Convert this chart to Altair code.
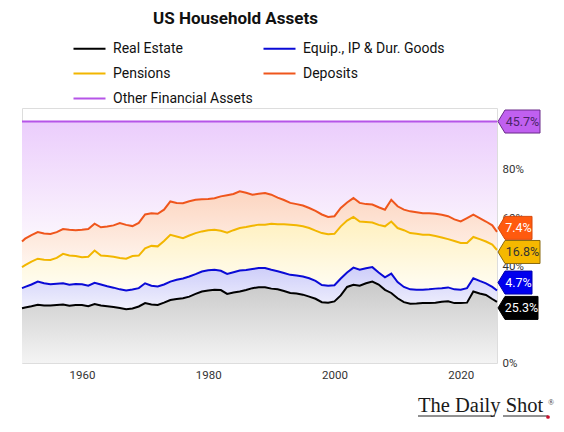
import altair as alt
import pandas as pd

# ---------------- data ----------------
years = [1950.5] + list(range(1951, 2026)) + [2025.75]

# Cumulative (stacked) level of each boundary line, % of household assets
real_estate_top = [
    22.7,
    23.0, 23.5, 24.1, 23.8, 23.8, 24.0, 24.2, 23.7, 24.0,
    24.0, 23.5, 24.4, 23.8, 23.5, 23.2, 22.8, 22.3, 22.6, 23.4,
    24.8, 24.2, 24.0, 25.0, 26.1, 26.5, 26.8, 27.5, 28.6, 29.6,
    30.0, 30.3, 30.2, 28.6, 29.2, 29.6, 30.2, 31.0, 31.4, 31.4,
    30.8, 30.5, 29.8, 29.0, 28.8, 28.3, 27.5, 26.6, 25.2, 25.0,
    25.5, 28.0, 31.5, 32.4, 32.0, 33.0, 33.7, 32.5, 30.3, 29.0,
    26.8, 25.2, 24.5, 24.6, 24.8, 24.8, 25.0, 25.4, 25.6, 24.8,
    24.8, 25.0, 29.6, 28.8, 28.2, 26.5,
    25.3,
]
equip_top = [
    31.0,
    31.5, 32.5, 33.7, 33.0, 32.6, 32.8, 33.0, 32.4, 32.7,
    32.6, 32.0, 33.2, 32.5, 31.8, 31.2, 30.5, 30.0, 30.4, 31.0,
    33.0, 32.0, 31.7, 32.5, 33.7, 34.5, 35.0, 35.8, 36.8, 37.9,
    38.4, 38.6, 38.2, 36.9, 37.6, 38.3, 38.5, 38.9, 39.3, 39.3,
    38.6, 38.0, 37.3, 36.5, 36.2, 35.8, 35.1, 34.0, 32.3, 32.0,
    32.2, 35.0, 37.5, 39.5, 38.6, 39.2, 39.7, 37.5, 35.5, 37.0,
    33.5, 31.5, 30.5, 30.3, 30.3, 30.5, 30.8, 31.0, 31.3, 30.5,
    30.3, 31.0, 35.1, 34.0, 33.0, 31.5,
    30.0,
]
pensions_top = [
    39.7,
    40.5, 42.0, 43.2, 42.8, 42.7, 43.5, 45.2, 44.5, 44.3,
    43.8, 44.0, 46.6, 44.5, 44.3, 44.0, 43.5, 43.2, 44.3, 44.5,
    47.5, 48.5, 48.3, 50.5, 53.1, 52.4, 51.7, 52.8, 53.8, 54.5,
    55.0, 55.2, 54.8, 54.0, 55.0, 55.9, 56.3, 56.8, 57.3, 57.3,
    57.7, 57.5, 57.5, 57.3, 57.0, 56.6, 55.9, 54.8, 53.8, 53.3,
    53.5, 56.6, 59.0, 60.5, 58.6, 58.4, 58.2, 57.2, 56.6, 58.6,
    55.9, 55.0, 53.8, 53.5, 53.1, 53.1, 52.6, 52.0, 51.3, 50.5,
    49.7, 49.7, 52.2, 51.3, 50.3, 49.0,
    46.8,
]
deposits_top = [
    50.3,
    51.5, 53.0, 54.2, 53.6, 53.4, 54.2, 55.5, 55.2, 55.0,
    55.2, 55.5, 57.7, 56.2, 56.5, 57.0, 58.0, 57.2, 56.7, 58.0,
    61.5, 62.0, 61.8, 63.5, 66.9, 66.3, 66.2, 67.0, 67.6, 67.8,
    67.9, 68.2, 69.0, 69.5, 70.0, 71.1, 70.5, 69.7, 70.1, 70.4,
    69.7, 68.5, 67.5, 66.3, 65.8, 65.2, 64.2, 63.0, 61.5, 60.5,
    60.8, 64.2, 66.5, 68.3, 66.3, 65.8, 65.6, 64.5, 63.5, 67.6,
    64.9, 63.5, 62.8, 62.4, 62.0, 62.0, 61.8, 61.4, 60.8, 59.5,
    58.6, 60.0, 61.4, 60.0, 58.6, 57.0,
    54.3,
]
other_top = [100.0] * len(years)

series_names = ["Real Estate", "Equip., IP & Dur. Goods", "Pensions",
                "Deposits", "Other Financial Assets"]
latest_shares = [25.3, 4.7, 16.8, 7.4, 45.7]

# ---------------- styles ----------------
line_colors = ["#000000", "#0a0ad6", "#f2b600", "#ef561c", "#b655e8"]
FONT = "Roboto"

wide = pd.DataFrame({
    "year": years,
    "re": real_estate_top,
    "eq": equip_top,
    "pe": pensions_top,
    "de": deposits_top,
    "ot": other_top,
})
cols = ["re", "eq", "pe", "de", "ot"]
long = pd.concat(
    [pd.DataFrame({"year": years, "value": wide[c], "series": n})
     for c, n in zip(cols, series_names)],
    ignore_index=True,
)

XMIN, XMAX = 1950.5, 2025.75
xscale = alt.Scale(domain=[XMIN, XMAX], nice=False, zero=False)
yscale = alt.Scale(domain=[0, 105.6], nice=False)

x_enc = alt.X("year:Q", scale=xscale, title=None,
              axis=alt.Axis(values=[1960, 1980, 2000, 2020], format="d",
                            ticks=False, domain=False, grid=False,
                            labelPadding=6, labelFontSize=11.5,
                            labelColor="#333", labelFont=FONT, zindex=0))
y_axis = alt.Axis(orient="right", values=[0, 40, 60, 80],
                  labelExpr="datum.value + '%'", ticks=False, domain=False,
                  grid=False, labelPadding=5, labelFontSize=11.5,
                  labelColor="#333", labelFont=FONT, labelAlign="left",
                  zindex=0)


def grad(bottom, top):
    return alt.Gradient(
        gradient="linear",
        stops=[alt.GradientStop(color=bottom, offset=0),
               alt.GradientStop(color=top, offset=1)],
        x1=1, x2=1, y1=1, y2=0,
    )


base = alt.Chart(wide)
area_gray = base.mark_area(fill=grad("#f4f4f4", "#c9c9c9")).encode(
    x=x_enc, y=alt.Y("re:Q", scale=yscale, axis=y_axis, title=None))
area_blue = base.mark_area(fill=grad("#f1f1fd", "#cdcdf9")).encode(
    x=x_enc, y=alt.Y("eq:Q", scale=yscale), y2="re:Q")
area_yel = base.mark_area(fill=grad("#fffdf4", "#fff0bd")).encode(
    x=x_enc, y=alt.Y("pe:Q", scale=yscale), y2="eq:Q")
area_ora = base.mark_area(fill=grad("#fff6f0", "#fcd5c0")).encode(
    x=x_enc, y=alt.Y("de:Q", scale=yscale), y2="pe:Q")
area_pur = base.mark_area(fill=grad("#fcf7fd", "#ebcdfc")).encode(
    x=x_enc, y=alt.Y("ot:Q", scale=yscale), y2="de:Q")

lines = alt.Chart(long).mark_line(strokeWidth=2.0).encode(
    x=x_enc,
    y=alt.Y("value:Q", scale=yscale),
    color=alt.Color(
        "series:N",
        scale=alt.Scale(domain=series_names, range=line_colors),
        sort=series_names,
        legend=alt.Legend(
            title=None, orient="none", legendX=58, legendY=-69,
            columns=2, direction="horizontal",
            symbolType="M-2,0L2,0", symbolSize=256,
            symbolStrokeWidth=2.2, labelFontSize=14, labelFont=FONT,
            labelColor="#111", labelOffset=14, columnPadding=6,
            rowPadding=8, padding=0,
        ),
    ),
    order=alt.Order("year:Q"),
)

# ---------------- value tags at the right edge ----------------
end_levels = [real_estate_top[-1], equip_top[-1], pensions_top[-1],
              deposits_top[-1], other_top[-1]]
tag_style = [
    # fill, stroke, text colour, width(px), vertical nudge(px)
    ("#000000", "#000000", "#ffffff", 40, 6),
    ("#0000ee", "#0000aa", "#ffffff", 34, -8),
    ("#f5b800", "#8a6a10", "#333333", 42, 2),
    ("#ff5a0e", "#d8480a", "#ffffff", 34, -4),
    ("#c060f0", "#6a2a8a", "#4a2466", 42, 0),
]
TAG_H, TAG_A = 23.0, 7.0

tag_layers = []
for lvl, share, (fill, stroke, tcol, w, nudge) in zip(
        end_levels, latest_shares, tag_style):
    r = w / 2.0
    ax = -1 + TAG_A / r
    hy = (TAG_H / 2.0) / r
    path = (f"M-1,0L{ax:.3f},{-hy:.3f}L1,{-hy:.3f}L1,{hy:.3f}"
            f"L{ax:.3f},{hy:.3f}Z")
    d = pd.DataFrame({"year": [XMAX], "level": [lvl],
                      "label": [f"{share:.1f}%"]})
    c = alt.Chart(d)
    tag_layers.append(
        c.mark_point(shape=path, size=w * w, filled=True, fill=fill,
                     stroke=stroke, strokeWidth=1, opacity=1,
                     xOffset=r + 1, yOffset=nudge).encode(
            x=alt.X("year:Q", scale=xscale),
            y=alt.Y("level:Q", scale=yscale)))
    tag_layers.append(
        c.mark_text(font=FONT, fontSize=12.5, color=tcol, align="center",
                    baseline="middle", xOffset=1 + (TAG_A + w) / 2.0,
                    yOffset=nudge).encode(
            x=alt.X("year:Q", scale=xscale),
            y=alt.Y("level:Q", scale=yscale),
            text="label:N"))

# ---------------- watermark ----------------
wm = alt.Chart(pd.DataFrame({"t": ["The Daily Shot"]})).mark_text(
    font="Liberation Serif", fontSize=20.5, color="#1a1a1a", align="left",
    baseline="alphabetic").encode(
    x=alt.value(396), y=alt.value(304), text="t:N")
wm_r = alt.Chart(pd.DataFrame({"t": ["®"]})).mark_text(
    font="Liberation Serif", fontSize=8, color="#333", align="left").encode(
    x=alt.value(526), y=alt.value(295), text="t:N")
ul1 = alt.Chart(pd.DataFrame({"a": [0]})).mark_rule(
    color="#222", strokeWidth=1).encode(
    x=alt.value(396), x2=alt.value(473), y=alt.value(308))
ul2 = alt.Chart(pd.DataFrame({"a": [0]})).mark_rule(
    color="#222", strokeWidth=1).encode(
    x=alt.value(481), x2=alt.value(526), y=alt.value(308))
dot = alt.Chart(pd.DataFrame({"a": [0]})).mark_point(
    filled=True, color="#c8102e", size=14, opacity=1).encode(
    x=alt.value(526), y=alt.value(309))

chart = alt.layer(
    area_gray, area_blue, area_yel, area_ora, area_pur, lines,
    *tag_layers, wm, wm_r, ul1, ul2, dot,
).properties(
    width=475, height=255,
    title=alt.TitleParams("US Household Assets", anchor="start", dx=135,
                          dy=-7, font=FONT, fontSize=17, fontWeight="bold",
                          color="#111"),
    autosize=alt.AutoSizeParams(type="none"),
    padding={"left": 14, "top": 100, "right": 59, "bottom": 61},
).configure_view(
    stroke="#d6d6d6", strokeWidth=1
).configure(font=FONT)

chart.save("out.html", embed_options={"renderer": "svg", "actions": False})
